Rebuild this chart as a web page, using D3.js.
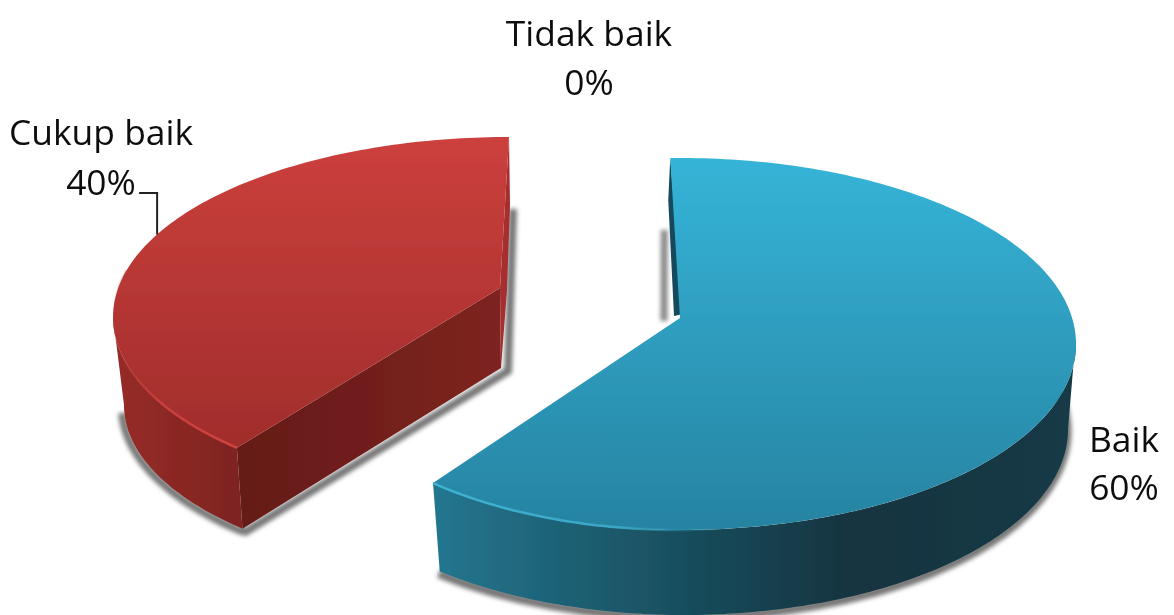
<!DOCTYPE html>
<html>
<head>
<meta charset="utf-8">
<script src="https://cdn.jsdelivr.net/npm/d3@7/dist/d3.min.js"></script>
<style>
html,body{margin:0;padding:0;background:#fff;overflow:hidden}
svg{display:block}
text{font-family:"Open Sans","Noto Sans",sans-serif;font-size:35.4px;fill:#111;text-anchor:middle}
</style>
</head>
<body>
<svg id="chart" width="1174" height="615"></svg>
<script>
const categories = ["Baik", "Cukup baik", "Tidak baik"];
const values = [60, 40, 0];

const W = 1174, H = 615;
const deg = d => d * Math.PI / 180;

// Drawing layout for each visible slice (projected 3D shape), separate from data
const layouts = {
  "Baik": {
    top: {cx: 680, cy: 344, rx: 396, rxL: 372, ry: 186}, bottom: {cx: 684, cy: 429, rx: 384, rxL: 380, ry: 186},
    apex: [680, 318], depth: 82, span: [-1.5, 221.6], bottomEnd: 220, wallFrom: 90,
    topFill: "blueTop", wallFill: "blueWall", edge: "#3fb2d2", edgeSpan: [140, 221.6], edgeFill: "blueEdge",
    shadowFrom: 100
  },
  "Cukup baik": {
    top: {cx: 509, cy: 317, rx: 396, ry: 180}, bottom: {cx: 512, cy: 405, rx: 388, ry: 172},
    apex: [500, 288], depth: 80, span: [223.4, 360], bottomEnd: 224, wallFrom: 270,
    topFill: "redTop", wallFill: "redWall", faceFill: "redFace", edge: "#cf4340", edgeSpan: [223.4, 285], edgeFill: "redEdge",
    shadowFrom: 268
  }
};
const labelPos = {
  "Baik": [1124, 452, 500], "Cukup baik": [101, 145, 195], "Tidak baik": [589, 46, 95]
};

const svg = d3.select("#chart");
const defs = svg.append("defs");

function grad(id, vertical, stops, a, b) {
  const g = defs.append("linearGradient").attr("id", id).attr("gradientUnits", "userSpaceOnUse");
  if (vertical) g.attr("x1", 0).attr("x2", 0).attr("y1", a).attr("y2", b);
  else g.attr("x1", a).attr("x2", b).attr("y1", 0).attr("y2", 0);
  const off = d3.scaleLinear().domain([a, b]).range([0, 1]);
  stops.forEach(s => g.append("stop").attr("offset", off(s[0])).attr("stop-color", s[1]).attr("stop-opacity", s[2] === undefined ? 1 : s[2]));
}
grad("blueTop", true, [[158, "#35b4d8"], [530, "#2783a1"]], 158, 530);
grad("redTop", true, [[137, "#cc403d"], [447, "#a02d2b"]], 137, 447);
grad("blueWall", false, [[435, "#24768f"], [600, "#1c5b6e"], [720, "#174857"], [850, "#123440"], [1070, "#123a47"]], 435, 1070);
grad("redWall", false, [[118, "#962c28"], [240, "#7e2320"]], 118, 240);
grad("redFace", false, [[240, "#651a18"], [500, "#7e2420"]], 240, 500);
grad("blueEdge", false, [[435, "#3fb2d2"], [620, "#3aa6c6"], [720, "#2a8cab", 0]], 435, 720);
grad("redEdge", false, [[113, "#b8302e", 0], [160, "#c93f3c"], [237, "#cf4340"]], 113, 237);

const soft = defs.append("filter").attr("id", "soft").attr("filterUnits", "userSpaceOnUse")
  .attr("x", 0).attr("y", 0).attr("width", W).attr("height", H);
soft.append("feGaussianBlur").attr("stdDeviation", 0.7);
const blur = defs.append("filter").attr("id", "shadowBlur").attr("filterUnits", "userSpaceOnUse")
  .attr("x", 0).attr("y", 0).attr("width", W).attr("height", H);
blur.append("feGaussianBlur").attr("stdDeviation", 2.2);
const txt = defs.append("filter").attr("id", "softText").attr("filterUnits", "userSpaceOnUse")
  .attr("x", 0).attr("y", 0).attr("width", W).attr("height", H);
txt.append("feGaussianBlur").attr("stdDeviation", 0.45);

const pie = d3.pie().sort(null).value(d => d)(values);
const line = d3.line();

const onEllipse = (e, a) => {
  const s = Math.sin(deg(a));
  return [e.cx + (s < 0 && e.rxL ? e.rxL : e.rx) * s, e.cy - e.ry * Math.cos(deg(a))];
};
const arcPts = (e, a0, a1) => {
  const n = Math.max(2, Math.ceil(Math.abs(a1 - a0)));
  return d3.range(n + 1).map(i => onEllipse(e, a0 + (a1 - a0) * i / n));
};

const root = svg.append("g").attr("filter", "url(#soft)");
const shadows = root.append("g");
const marks = root.append("g");

pie.forEach((p, i) => {
  if (!p.value) return;
  const L = layouts[categories[i]];
  const toDeg = d3.scaleLinear().domain([p.startAngle, p.endAngle]).range(L.span);
  const a0 = toDeg(p.startAngle), a1 = toDeg(p.endAngle);
  const topPts = arcPts(L.top, a0, a1);
  const apexB = [L.apex[0] + (i === 0 ? 0 : 1), L.apex[1] + L.depth];

  if (i === 0) {
    // Baik: outer wall under the arc, back sliver and its shadow
    const bEnd = L.bottomEnd;
    const wall = arcPts(L.bottom, L.wallFrom, bEnd).concat(arcPts(L.top, a1, L.wallFrom - 2));
    shadows.append("path").attr("d", line(arcPts({...L.bottom, cx: L.bottom.cx - 1, cy: L.bottom.cy + 2}, L.shadowFrom - 22, bEnd)))
      .attr("fill", "none").attr("stroke", "#777").attr("stroke-width", 9).attr("filter", "url(#shadowBlur)");
    const s = topPts[0];
    shadows.append("path").attr("d", line([[s[0] - 6, s[1] + 72], [L.apex[0] - 16, L.apex[1] + 3]]))
      .attr("fill", "none").attr("stroke", "#8a8a8a").attr("stroke-width", 7).attr("filter", "url(#shadowBlur)");
    marks.append("path").attr("d", line(wall) + "Z").attr("fill", "url(#blueWall)");
    marks.append("path").attr("d", line([s, [s[0] - 2, s[1] + 42], [L.apex[0] - 6, L.apex[1] - 2], [L.apex[0] + 3, L.apex[1] - 4]]) + "Z")
      .attr("fill", "#124a5c");
  } else {
    const bEnd = L.bottomEnd;
    const bottomArc = arcPts(L.bottom, L.wallFrom, bEnd);
    const corner = bottomArc[bottomArc.length - 1];
    const wall = bottomArc.concat(arcPts(L.top, a0, L.wallFrom));
    const s = topPts[topPts.length - 1];
    // shadow: along bottom edge, front edge and up the right side
    shadows.append("path").attr("d", line(arcPts({...L.bottom, cx: L.bottom.cx - 2, cy: L.bottom.cy + 2}, L.shadowFrom, bEnd)
        .concat([[corner[0] + 3, corner[1] + 3], [apexB[0] + 7, apexB[1] + 3], [s[0] + 4, s[1] + 72]])))
      .attr("fill", "none").attr("stroke", "#777").attr("stroke-width", 8).attr("filter", "url(#shadowBlur)");
    marks.append("path").attr("d", line(wall) + "Z").attr("fill", "url(#redWall)");
    // back-side sliver
    marks.append("path").attr("d", line([s, [s[0] + 1, s[1] + 68], [L.apex[0] + 7, L.apex[1] + 2], apexB, L.apex]) + "Z").attr("fill", "#a62f2d");
    // front flat face
    marks.append("path").attr("d", line([topPts[0], corner, apexB, L.apex]) + "Z").attr("fill", "url(#redFace)");
  }

  // top surface
  marks.append("path").attr("d", line([L.apex].concat(topPts)) + "Z").attr("fill", "url(#" + L.topFill + ")");
  // lit rim
  marks.append("path").attr("d", line(arcPts(L.top, L.edgeSpan[0], L.edgeSpan[1])))
    .attr("fill", "none").attr("stroke", "url(#" + L.edgeFill + ")").attr("stroke-width", 2.5);
});

// leader line for Cukup baik
const leaderEnd = onEllipse(layouts["Cukup baik"].top, 297.3);
root.append("path").attr("d", line([[leaderEnd[0] - 18, 193], [leaderEnd[0], 193], leaderEnd]))
  .attr("fill", "none").attr("stroke", "#222").attr("stroke-width", 2);

// labels
const labels = svg.append("g").attr("filter", "url(#softText)");
categories.forEach((c, i) => {
  const [x, y1, y2] = labelPos[c];
  labels.append("text").attr("x", x).attr("y", y1).text(c);
  labels.append("text").attr("x", x).attr("y", y2).text(d3.format(".0f")(values[i]) + "%");
});
</script>
</body>
</html>
